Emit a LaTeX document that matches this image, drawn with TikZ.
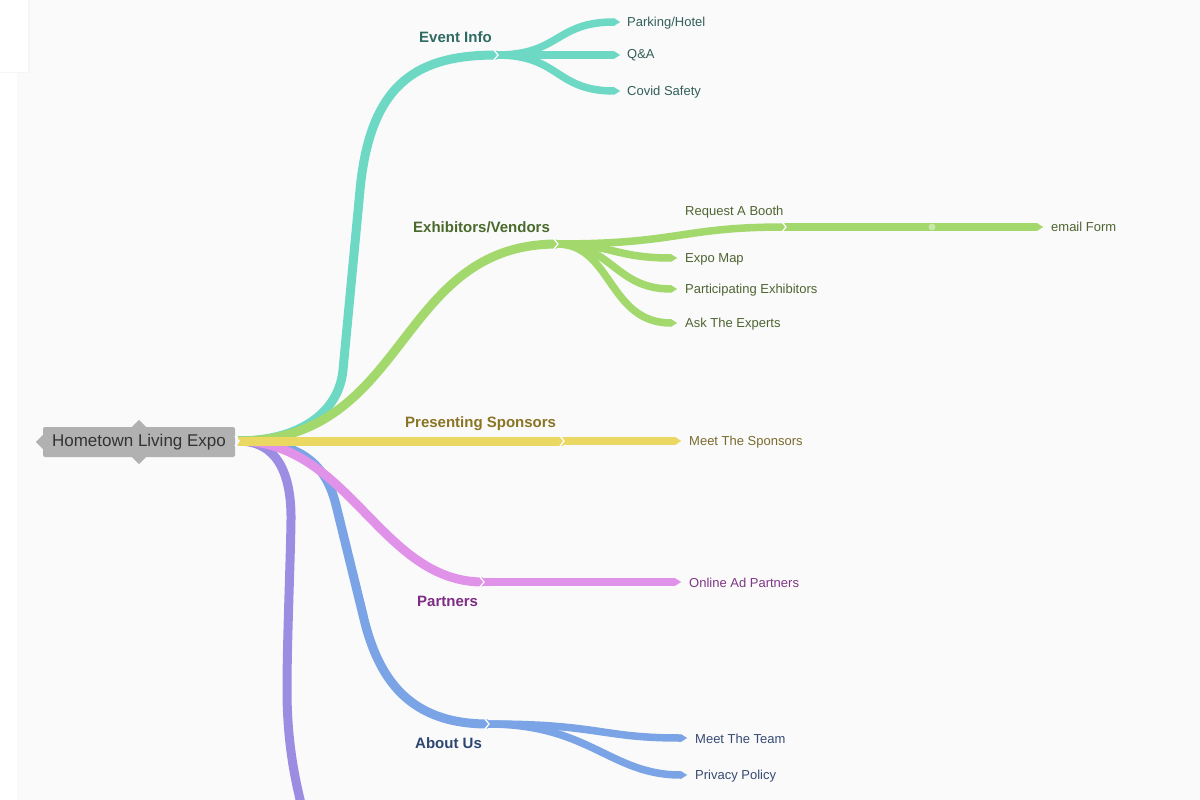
\documentclass[tikz,border=0pt]{standalone}
\usepackage{fontspec}
\setmainfont{Liberation Sans}
\usetikzlibrary{arrows.meta}
\definecolor{bgc}{HTML}{FAFAFA}
\definecolor{cTeal}{HTML}{6DD8C4}
\definecolor{cGreen}{HTML}{A2D86C}
\definecolor{cGreenDot}{HTML}{C8E8A8}
\definecolor{cYellow}{HTML}{EAD862}
\definecolor{cPink}{HTML}{E092E8}
\definecolor{cBlue}{HTML}{7AA4E6}
\definecolor{cPurple}{HTML}{9C8DE2}
\definecolor{rootGray}{HTML}{B1B1B1}
\definecolor{tTeal}{HTML}{2E6B62}
\definecolor{tGreen}{HTML}{4A6A2C}
\definecolor{tYellow}{HTML}{8A7424}
\definecolor{tPink}{HTML}{7E2C84}
\definecolor{tBlue}{HTML}{2C4672}
\definecolor{lTeal}{HTML}{325F59}
\definecolor{lGreen}{HTML}{4F6432}
\definecolor{lYellow}{HTML}{7A6A2E}
\definecolor{lPink}{HTML}{7E3686}
\definecolor{lBlue}{HTML}{364A72}
\begin{document}
\begin{tikzpicture}[x=1pt,y=-1pt,
  mainbr/.style={line width=9pt},
  subbr/.style={line width=7.5pt},
  tipend/.style={-{Triangle[length=6pt,width=7.5pt,line width=0.1pt]}},
  tipendw/.style={-{Triangle[length=6pt,width=8pt,line width=0.1pt]}},
  branchlbl/.style={font=\fontsize{15}{18}\selectfont\bfseries, anchor=west, inner sep=0pt},
  leaflbl/.style={font=\fontsize{13}{15}\selectfont, anchor=west, inner sep=0pt},
  notchmark/.style={white, line width=1.3pt, line join=miter},
  rootbox/.style={fill=rootGray, rounded corners=2pt, minimum width=192pt, minimum height=30pt, inner sep=0pt, text=black!80, font=\fontsize{17}{20}\selectfont}
]
\useasboundingbox (0,0) rectangle (1200,800);
\clip (0,0) rectangle (1200,800);
% background
\fill[white] (0,0) rectangle (1200,800);
\fill[bgc] (17,0) rectangle (1200,800);
\fill[black!4] (0,0) rectangle (29.5,73.5);
\fill[white] (0,0) rectangle (28,72);

% root
\node[rootbox] (root) at (139,442) {Hometown Living Expo};
\fill[rootGray] (root.north) ++(-7,0) -- ++(7,-7) -- ++(7,7) -- cycle;
\fill[rootGray] (root.south) ++(-7,0) -- ++(7,7) -- ++(7,-7) -- cycle;
\fill[rootGray] (root.west) ++(0,-7) -- ++(-7,7) -- ++(7,7) -- cycle;
\coordinate (rootE) at (238,441);

% junctions and ends
\coordinate (jEvent) at (497,55);
\coordinate (jExh) at (557,244);
\coordinate (jSpon) at (563,441);
\coordinate (jPart) at (483,582);
\coordinate (jAbout) at (488,724);
\coordinate (jBooth) at (785,227);
\coordinate (pEnd) at (304,815);
\coordinate (tA) at (343,370);
\coordinate (tB) at (360,190);
\coordinate (bA) at (336,505);
\coordinate (bB) at (363,615);
\coordinate (uA) at (291,520);
\coordinate (uB) at (287,690);

% main branches
\draw[cPurple, mainbr] (rootE) .. controls (278,441) and (291.5,475) .. (uA) .. controls (290.5,560) and (287,640) .. (uB) .. controls (287,745) and (296,785) .. (pEnd);
\draw[cBlue, mainbr] (rootE) .. controls (302,441) and (326,465) .. (bA) -- (bB) .. controls (378,680) and (410,724) .. (jAbout);
\draw[cPink, mainbr] (rootE) .. controls (350,441) and (380,582) .. (jPart);
\draw[cTeal, mainbr] (rootE) .. controls (300,441) and (339,412) .. (tA) -- (tB) .. controls (370.4,80) and (420,55) .. (jEvent);
\draw[cGreen, mainbr] (rootE) .. controls (410,441) and (395,244) .. (jExh);
\draw[cYellow, mainbr] (rootE) -- (jSpon);

% leaf ends
\coordinate (eParking) at (620,22);
\coordinate (eQA) at (620,55);
\coordinate (eCovid) at (620,91);
\coordinate (eEmail) at (1043,227);
\coordinate (eExpo) at (677,258);
\coordinate (ePartic) at (677,289);
\coordinate (eAsk) at (677,323);
\coordinate (eMeetSp) at (681,441);
\coordinate (eOnline) at (681,582);
\coordinate (eTeam) at (687,738);
\coordinate (ePrivacy) at (687,775);

% event info children
\draw[cTeal, subbr, tipend] (jEvent) .. controls (560,55) and (555,22) .. (eParking);
\draw[cTeal, subbr, tipend] (jEvent) -- (eQA);
\draw[cTeal, subbr, tipend] (jEvent) .. controls (560,55) and (555,91) .. (eCovid);

% exhibitors children
\draw[cGreen, subbr] (jExh) .. controls (680,244) and (680,227) .. (jBooth);
\draw[cGreen, subbr, tipend] (jBooth) -- (eEmail);
\draw[cGreen, subbr, tipend] (jExh) .. controls (612,244) and (615,258) .. (eExpo);
\draw[cGreen, subbr, tipend] (jExh) .. controls (612,244) and (615,289) .. (ePartic);
\draw[cGreen, subbr, tipend] (jExh) .. controls (612,244) and (608,323) .. (eAsk);
\fill[cGreenDot] (932,227) circle (3.5);

% sponsors, partners, about children
\draw[cYellow, line width=8pt, tipendw] (jSpon) -- (eMeetSp);
\draw[cPink, subbr, tipend] (jPart) -- (eOnline);
\draw[cBlue, subbr, tipend] (jAbout) .. controls (600,724) and (600,738) .. (eTeam);
\draw[cBlue, subbr, tipend] (jAbout) .. controls (590,724) and (610,775) .. (ePrivacy);

% notches
\foreach \c in {rootE,jEvent,jExh,jSpon,jPart,jAbout,jBooth}
  \draw[notchmark] (\c) ++(-3,-5) -- ++(4,5) -- ++(-4,5);

% labels
\node[branchlbl, text=tTeal] (lEvent) at (419,37) {Event Info};
\node[branchlbl, text=tGreen] (lExh) at (413,227) {Exhibitors/Vendors};
\node[branchlbl, text=tYellow] (lSpon) at (405,424) {Presenting Sponsors};
\node[branchlbl, text=tPink] (lPart) at (417,601) {Partners};
\node[branchlbl, text=tBlue] (lAbout) at (415,743) {About Us};

\node[leaflbl, text=lTeal] (tParking) at (627,23) {Parking/Hotel};
\node[leaflbl, text=lTeal] (tQA) at (627,55) {Q\&A};
\node[leaflbl, text=lTeal] (tCovid) at (627,92) {Covid Safety};
\node[leaflbl, text=lGreen] (tBooth) at (685,212) {Request A Booth};
\node[leaflbl, text=lGreen] (tEmail) at (1051,227) {email Form};
\node[leaflbl, text=lGreen] (tExpo) at (685,259) {Expo Map};
\node[leaflbl, text=lGreen] (tPartic) at (685,290) {Participating Exhibitors};
\node[leaflbl, text=lGreen] (tAsk) at (685,324) {Ask The Experts};
\node[leaflbl, text=lYellow] (tMeetSp) at (689,442) {Meet The Sponsors};
\node[leaflbl, text=lPink] (tOnline) at (689,583) {Online Ad Partners};
\node[leaflbl, text=lBlue] (tTeam) at (695,739) {Meet The Team};
\node[leaflbl, text=lBlue] (tPrivacy) at (695,776) {Privacy Policy};
\end{tikzpicture}
\end{document}
